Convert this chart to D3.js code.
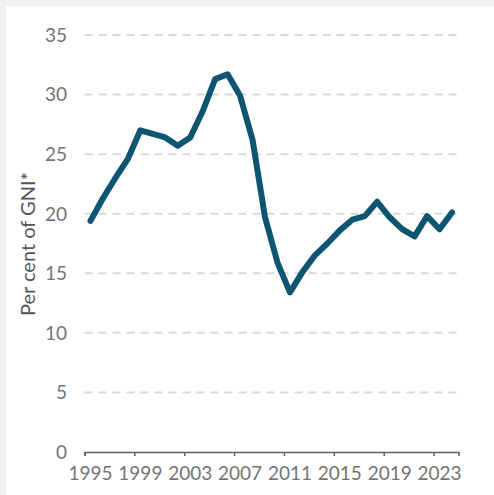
<!DOCTYPE html>
<html>
<head>
<meta charset="utf-8">
<script src="https://cdn.jsdelivr.net/npm/d3@7"></script>
<style>
  html, body { margin: 0; padding: 0; background: #f2f2f2; }
  svg { display: block; }
</style>
</head>
<body>
<script>
const years = [1995,1996,1997,1998,1999,2000,2001,2002,2003,2004,2005,2006,2007,2008,2009,2010,2011,2012,2013,2014,2015,2016,2017,2018,2019,2020,2021,2022,2023,2024];
const values = [19.4,21.3,23.0,24.6,27.0,26.7,26.4,25.7,26.4,28.6,31.3,31.7,29.9,26.2,19.7,15.9,13.4,15.1,16.5,17.5,18.6,19.5,19.8,21.0,19.7,18.7,18.1,19.8,18.7,20.1];
const xTicks = [1995,1999,2003,2007,2011,2015,2019,2023];
const yTicks = [0,5,10,15,20,25,30,35];
const yLabel = "Per cent of GNI*";

const W = 494, H = 495;
const svg = d3.select("body").append("svg").attr("width", W).attr("height", H);
svg.append("rect").attr("x", 6).attr("y", 6).attr("width", W - 6).attr("height", H - 6).attr("fill", "#ffffff");

const x = d3.scaleLinear().domain([1995, 2025]).range([84.5, 458.5]);
const y = d3.scaleLinear().domain([0, 35]).range([452, 35]);

const font = "Lato, 'Open Sans', sans-serif";

// grid
const grid = svg.append("g");
grid.selectAll("line").data(yTicks.filter(d => d > 0)).join("line")
  .attr("x1", x(1995)).attr("x2", x(2025) - 2)
  .attr("y1", d => y(d)).attr("y2", d => y(d))
  .attr("stroke", "#d9d9d9").attr("stroke-width", 2)
  .attr("stroke-dasharray", "8,6");

// y labels
svg.append("g").selectAll("text").data(yTicks).join("text")
  .attr("x", 67).attr("y", d => y(d)).attr("dy", "0.36em")
  .attr("text-anchor", "end")
  .attr("font-family", font).attr("font-size", 19).attr("fill", "#747474")
  .text(d => d);

// x axis
const xAxis = d3.axisBottom(x).tickValues(xTicks).tickFormat(d3.format("d")).tickSizeOuter(0).tickSize(4).tickPadding(11);
const gx = svg.append("g").attr("transform", `translate(0,${y(0)})`).call(xAxis);
gx.select(".domain").attr("stroke", "#606060").attr("stroke-width", 1.5);
gx.selectAll(".tick line").attr("stroke", "#606060").attr("stroke-width", 1.5);
gx.selectAll(".tick text").attr("font-family", font).attr("font-size", 19).attr("fill", "#747474")
  .attr("x", 5.5);

// y title
svg.append("text")
  .attr("transform", `translate(35,244) rotate(-90)`)
  .attr("text-anchor", "middle")
  .attr("font-family", font).attr("font-size", 20).attr("fill", "#555555")
  .text(yLabel);

// line
const data = years.map((yr, i) => ({ yr, v: values[i] }));
const line = d3.line().x(d => x(d.yr + 0.48)).y(d => y(d.v));
svg.append("path").datum(data)
  .attr("d", line)
  .attr("fill", "none")
  .attr("stroke", "#0e5572")
  .attr("stroke-width", 6)
  .attr("stroke-linejoin", "round")
  .attr("stroke-linecap", "round");
</script>
</body>
</html>
